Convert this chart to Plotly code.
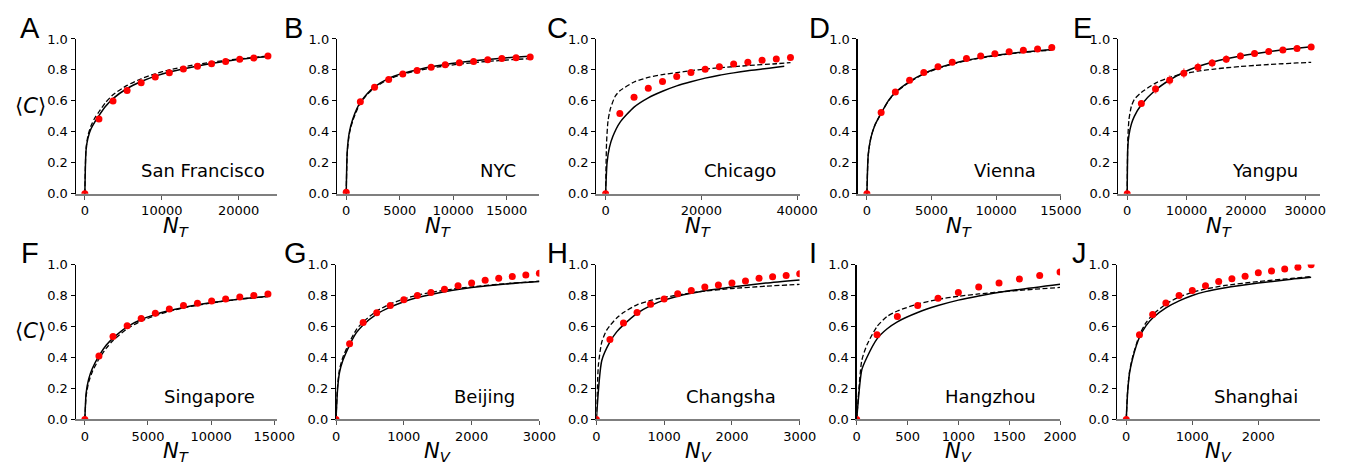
import plotly.graph_objects as go

# ---------------- data ----------------
# A  San Francisco
sf_n = [0, 1830, 3660, 5490, 7320, 9150, 10980, 12810, 14640, 16470, 18300, 20130, 21960, 23800]
sf_c = [0.0, 0.483, 0.600, 0.667, 0.717, 0.754, 0.781, 0.806, 0.823, 0.840, 0.854, 0.869, 0.877, 0.890]
sf_fit_n = [0, 150, 400, 800, 1300, 1830, 2700, 3660, 5490, 7320, 9150, 10980, 14640, 18300, 21960, 23800]
sf_solid = [0, 0.28, 0.36, 0.42, 0.465, 0.505, 0.565, 0.615, 0.68, 0.725, 0.76, 0.787, 0.826, 0.856, 0.878, 0.887]
sf_dashed = [0, 0.29, 0.375, 0.44, 0.49, 0.53, 0.59, 0.64, 0.70, 0.743, 0.775, 0.80, 0.836, 0.862, 0.881, 0.889]
sf_ticks = [0, 10000, 20000]

# B  NYC
nyc_n = [0, 1320, 2650, 3970, 5290, 6620, 7940, 9260, 10580, 11910, 13230, 14550, 15880, 17200]
nyc_c = [0.01, 0.594, 0.688, 0.738, 0.773, 0.796, 0.817, 0.833, 0.846, 0.854, 0.865, 0.873, 0.879, 0.883]
nyc_fit_n = [0, 100, 300, 600, 1000, 1320, 2000, 2650, 3970, 5290, 6620, 7940, 10580, 13230, 15880, 17200]
nyc_solid = [0, 0.28, 0.40, 0.48, 0.55, 0.59, 0.65, 0.69, 0.745, 0.778, 0.80, 0.82, 0.848, 0.868, 0.883, 0.889]
nyc_dashed = [0, 0.27, 0.39, 0.47, 0.54, 0.585, 0.645, 0.685, 0.74, 0.772, 0.795, 0.812, 0.838, 0.855, 0.868, 0.873]
nyc_ticks = [0, 5000, 10000, 15000]

# C  Chicago
chi_n = [0, 2970, 5940, 8910, 11880, 14850, 17820, 20790, 23760, 26730, 29700, 32670, 35640, 38600]
chi_c = [0.0, 0.519, 0.623, 0.681, 0.725, 0.758, 0.783, 0.804, 0.821, 0.838, 0.850, 0.863, 0.871, 0.881]
chi_solid_n = [0, 300, 800, 1500, 2970, 5940, 8910, 11880, 14850, 17820, 20790, 23760, 26730, 29700, 32670, 35640, 37300]
chi_solid = [0, 0.2, 0.3, 0.37, 0.46, 0.56, 0.62, 0.662, 0.697, 0.724, 0.747, 0.766, 0.781, 0.795, 0.806, 0.817, 0.823]
chi_dashed_n = [0, 200, 500, 1000, 2000, 2970, 5940, 8910, 11880, 14850, 17820, 20790, 23760, 29700, 35640, 38600]
chi_dashed = [0, 0.33, 0.47, 0.55, 0.63, 0.665, 0.722, 0.752, 0.77, 0.783, 0.795, 0.806, 0.814, 0.828, 0.84, 0.847]
chi_ticks = [0, 20000, 40000]

# D  Vienna
vie_n = [0, 1100, 2200, 3300, 4400, 5500, 6600, 7700, 8800, 9900, 11000, 12100, 13200, 14300]
vie_c = [0.0, 0.525, 0.658, 0.733, 0.783, 0.821, 0.850, 0.873, 0.890, 0.904, 0.917, 0.927, 0.935, 0.944]
vie_fit_n = [0, 100, 300, 600, 1100, 1650, 2200, 3300, 4400, 5500, 6600, 7700, 8800, 9900, 11000, 12100, 13200, 14300]
vie_solid = [0, 0.25, 0.36, 0.44, 0.52, 0.60, 0.655, 0.725, 0.776, 0.812, 0.84, 0.862, 0.879, 0.893, 0.905, 0.915, 0.924, 0.932]
vie_dashed = [0, 0.25, 0.36, 0.44, 0.52, 0.598, 0.652, 0.722, 0.773, 0.81, 0.838, 0.86, 0.877, 0.891, 0.903, 0.913, 0.921, 0.928]
vie_ticks = [0, 5000, 10000, 15000]

# E  Yangpu
yan_n = [0, 2385, 4770, 7150, 9540, 11920, 14310, 16690, 19080, 21460, 23850, 26230, 28620, 31000]
yan_c = [0.0, 0.583, 0.677, 0.733, 0.779, 0.817, 0.844, 0.869, 0.890, 0.906, 0.919, 0.929, 0.938, 0.948]
yan_err = [0.0, 0.022, 0.03, 0.032, 0.032, 0.03, 0.027, 0.025, 0.022, 0.02, 0.018, 0.015, 0.012, 0.01]
yan_fit_n = [0, 100, 300, 700, 1200, 2385, 4770, 7150, 9540, 11920, 14310, 16690, 19080, 21460, 23850, 26230, 28620, 31000]
yan_solid = [0, 0.30, 0.38, 0.45, 0.50, 0.575, 0.67, 0.735, 0.785, 0.822, 0.85, 0.872, 0.89, 0.905, 0.918, 0.93, 0.94, 0.95]
yan_dashed = [0, 0.35, 0.48, 0.565, 0.61, 0.655, 0.715, 0.752, 0.775, 0.792, 0.804, 0.814, 0.822, 0.829, 0.835, 0.84, 0.845, 0.849]
yan_ticks = [0, 10000, 20000, 30000]

# F  Singapore
sin_n = [0, 1115, 2230, 3350, 4460, 5580, 6690, 7810, 8920, 10040, 11150, 12270, 13380, 14500]
sin_c = [0.0, 0.410, 0.535, 0.604, 0.652, 0.685, 0.713, 0.735, 0.750, 0.765, 0.777, 0.790, 0.800, 0.810]
sin_fit_n = [0, 100, 300, 600, 1115, 1700, 2230, 3350, 4460, 5580, 6690, 7810, 8920, 10040, 11150, 12270, 13380, 14500]
sin_solid = [0, 0.17, 0.26, 0.33, 0.41, 0.48, 0.525, 0.598, 0.645, 0.678, 0.703, 0.723, 0.74, 0.754, 0.766, 0.777, 0.786, 0.795]
sin_dashed = [0, 0.15, 0.24, 0.31, 0.39, 0.46, 0.51, 0.585, 0.635, 0.67, 0.698, 0.72, 0.737, 0.752, 0.765, 0.776, 0.785, 0.793]
sin_ticks = [0, 5000, 10000, 15000]

# G  Beijing
bei_n = [0, 200, 400, 600, 800, 1000, 1200, 1400, 1600, 1800, 2000, 2200, 2400, 2600, 2800, 3000]
bei_c = [0.0, 0.489, 0.626, 0.688, 0.736, 0.773, 0.800, 0.819, 0.840, 0.863, 0.881, 0.898, 0.911, 0.923, 0.933, 0.944]
bei_fit_n = [0, 20, 50, 100, 200, 300, 400, 600, 800, 1000, 1200, 1400, 1700, 2000, 2500, 3000]
bei_solid = [0, 0.18, 0.30, 0.38, 0.48, 0.56, 0.61, 0.68, 0.725, 0.76, 0.787, 0.807, 0.832, 0.851, 0.874, 0.89]
bei_dashed = [0, 0.20, 0.32, 0.40, 0.50, 0.58, 0.63, 0.70, 0.745, 0.778, 0.802, 0.82, 0.84, 0.856, 0.876, 0.892]
bei_ticks = [0, 1000, 2000, 3000]

# H  Changsha
cha_n = [0, 200, 400, 600, 800, 1000, 1200, 1400, 1600, 1800, 2000, 2200, 2400, 2600, 2800, 3000]
cha_c = [0.0, 0.516, 0.622, 0.690, 0.744, 0.778, 0.811, 0.832, 0.854, 0.867, 0.881, 0.894, 0.911, 0.921, 0.929, 0.940]
cha_solid_n = [0, 80, 200, 300, 400, 600, 800, 1000, 1200, 1600, 2000, 2500, 3000]
cha_solid = [0, 0.38, 0.50, 0.565, 0.61, 0.685, 0.735, 0.77, 0.795, 0.83, 0.855, 0.88, 0.90]
cha_dashed_n = [0, 30, 80, 150, 200, 300, 400, 600, 800, 1000, 1500, 2000, 2500, 3000]
cha_dashed = [0, 0.35, 0.50, 0.575, 0.605, 0.655, 0.69, 0.74, 0.768, 0.788, 0.823, 0.845, 0.86, 0.872]
cha_ticks = [0, 1000, 2000, 3000]

# I  Hangzhou
han_n = [0, 200, 400, 600, 800, 1000, 1200, 1400, 1600, 1800, 2000]
han_c = [0.0, 0.547, 0.665, 0.736, 0.782, 0.819, 0.854, 0.881, 0.906, 0.929, 0.952]
han_fit_n = [0, 50, 100, 200, 300, 400, 600, 800, 1000, 1200, 1500, 2000]
han_solid = [0, 0.32, 0.40, 0.52, 0.585, 0.63, 0.69, 0.735, 0.77, 0.797, 0.83, 0.873]
han_dashed = [0, 0.38, 0.48, 0.60, 0.665, 0.70, 0.745, 0.775, 0.795, 0.81, 0.828, 0.852]
han_ticks = [0, 500, 1000, 1500, 2000]

# J  Shanghai
sha_n = [0, 200, 400, 600, 800, 1000, 1200, 1400, 1600, 1800, 2000, 2200, 2400, 2600, 2800]
sha_c = [0.0, 0.547, 0.678, 0.751, 0.800, 0.832, 0.863, 0.890, 0.908, 0.925, 0.946, 0.958, 0.971, 0.983, 0.998]
sha_fit_n = [0, 20, 50, 100, 200, 300, 400, 600, 800, 1000, 1200, 1500, 2000, 2500, 2800]
sha_solid = [0, 0.17, 0.30, 0.40, 0.53, 0.605, 0.655, 0.72, 0.765, 0.80, 0.825, 0.85, 0.88, 0.905, 0.917]
sha_dashed = [0, 0.18, 0.31, 0.41, 0.545, 0.625, 0.675, 0.745, 0.79, 0.82, 0.842, 0.865, 0.89, 0.91, 0.922]
sha_ticks = [0, 1000, 2000]

y_ticks = [0.0, 0.2, 0.4, 0.6, 0.8, 1.0]

# ---------------- panel table built from the arrays ----------------
panels = [
    ("A", "San Francisco", "T", sf_n, sf_c, None, sf_fit_n, sf_solid, sf_fit_n, sf_dashed, sf_ticks, True),
    ("B", "NYC", "T", nyc_n, nyc_c, None, nyc_fit_n, nyc_solid, nyc_fit_n, nyc_dashed, nyc_ticks, True),
    ("C", "Chicago", "T", chi_n, chi_c, None, chi_solid_n, chi_solid, chi_dashed_n, chi_dashed, chi_ticks, True),
    ("D", "Vienna", "T", vie_n, vie_c, None, vie_fit_n, vie_solid, vie_fit_n, vie_dashed, vie_ticks, True),
    ("E", "Yangpu", "T", yan_n, yan_c, yan_err, yan_fit_n, yan_solid, yan_fit_n, yan_dashed, yan_ticks, True),
    ("F", "Singapore", "T", sin_n, sin_c, None, sin_fit_n, sin_solid, sin_fit_n, sin_dashed, sin_ticks, True),
    ("G", "Beijing", "V", bei_n, bei_c, None, bei_fit_n, bei_solid, bei_fit_n, bei_dashed, bei_ticks, False),
    ("H", "Changsha", "V", cha_n, cha_c, None, cha_solid_n, cha_solid, cha_dashed_n, cha_dashed, cha_ticks, False),
    ("I", "Hangzhou", "V", han_n, han_c, None, han_fit_n, han_solid, han_fit_n, han_dashed, han_ticks, False),
    ("J", "Shanghai", "V", sha_n, sha_c, None, sha_fit_n, sha_solid, sha_fit_n, sha_dashed, sha_ticks, True),
]

# ---------------- layout geometry (pixels) ----------------
W, H = 1361, 470
axes_px = [(73, 278), (339, 545), (603, 810), (869, 1076), (1134, 1340),
           (73, 278), (338, 545), (603, 810), (868, 1075), (1133, 1340)]
rows_px = [(33, 193)] * 5 + [(266, 426)] * 5
letter_px = [14, 283, 551, 817, 1086, 15, 283, 551, 817, 1085]
city_right_px = [268, 523, 788, 1053, 1319, 258, 522, 788, 1053, 1319]

FONT = "DejaVu Sans"
fig = go.Figure()
layout = dict(
    width=W, height=H, margin=dict(l=0, r=0, t=0, b=0),
    paper_bgcolor="white", plot_bgcolor="white", showlegend=False,
    font=dict(family=FONT, size=13, color="black"),
)
annotations = []


def px_x(p):
    return p / W


def px_y(p):
    return (H - p) / H


for i, (letter, city, sub, n, c, err, sn, sc, dn, dc, ticks, auto_margin) in enumerate(panels):
    k = i + 1
    xname = "x" if k == 1 else f"x{k}"
    yname = "y" if k == 1 else f"y{k}"
    left, right = axes_px[i]
    top, bottom = rows_px[i]
    nmax = max(n)
    xr = [-0.05 * nmax, 1.05 * nmax] if auto_margin else [0, nmax]

    fig.add_trace(go.Scatter(x=sn, y=sc, mode="lines", xaxis=xname, yaxis=yname,
                             line=dict(color="black", width=1.5, shape="spline", smoothing=0.6),
                             hoverinfo="skip"))
    fig.add_trace(go.Scatter(x=dn, y=dc, mode="lines", xaxis=xname, yaxis=yname,
                             line=dict(color="black", width=1.3, dash="5px,2.5px", shape="spline", smoothing=0.6),
                             hoverinfo="skip"))
    dots = dict(x=n, y=c, mode="markers", xaxis=xname, yaxis=yname,
                marker=dict(color="#ff0000", size=7, line=dict(width=0)))
    if err is not None:
        dots["error_y"] = dict(type="data", array=err, visible=True,
                               color="rgba(255,40,40,0.55)", thickness=1.6, width=0)
    fig.add_trace(go.Scatter(**dots))

    layout[f"xaxis{'' if k == 1 else k}"] = dict(
        domain=[px_x(left), px_x(right)], anchor=yname, range=xr,
        tickvals=ticks, ticktext=[str(t) for t in ticks],
        showline=True, linecolor="#7f7f7f", linewidth=2,
        ticks="outside", ticklen=4, tickwidth=1, tickcolor="#555555",
        showgrid=False, zeroline=False, fixedrange=True,
        tickfont=dict(family=FONT, size=13, color="black"),
    )
    layout[f"yaxis{'' if k == 1 else k}"] = dict(
        domain=[px_y(bottom), px_y(top)], anchor=xname, range=[0, 1],
        tickvals=y_ticks, ticktext=[f"{t:.1f}" for t in y_ticks],
        showline=True, linecolor="black", linewidth=1.2,
        ticks="outside", ticklen=4, tickwidth=1, tickcolor="black",
        showgrid=False, zeroline=False, fixedrange=True,
        tickfont=dict(family=FONT, size=13, color="black"),
    )

    # panel letter
    annotations.append(dict(
        text=letter, x=px_x(letter_px[i]), y=px_y(top + 7), xref="paper", yref="paper",
        xanchor="left", yanchor="bottom", showarrow=False,
        font=dict(family="Liberation Sans, Arial", size=29, color="black")))
    # city name
    annotations.append(dict(
        text=city, x=px_x(city_right_px[i]), y=px_y(bottom - 24), xref="paper", yref="paper",
        xanchor="right", yanchor="middle", showarrow=False,
        font=dict(family=FONT, size=18, color="black")))
    # x-axis title
    annotations.append(dict(
        text=f"<i>N</i><sub><i>{sub}</i></sub>", x=px_x((left + right) / 2), y=px_y(bottom + 34),
        xref="paper", yref="paper", xanchor="center", yanchor="middle", showarrow=False,
        font=dict(family=FONT, size=21, color="black")))
    # y-axis title on first column
    if i % 5 == 0:
        annotations.append(dict(
            text="⟨<i>C</i>⟩", x=px_x(27), y=px_y(top + 69), xref="paper", yref="paper",
            xanchor="center", yanchor="middle", showarrow=False,
            font=dict(family=FONT, size=21, color="black")))

layout["annotations"] = annotations
fig.update_layout(**layout)
fig.write_html(
    "out.html",
    config={"displayModeBar": False, "staticPlot": True},
    post_script="document.body.style.margin='0';document.body.style.overflow='hidden';",
)
